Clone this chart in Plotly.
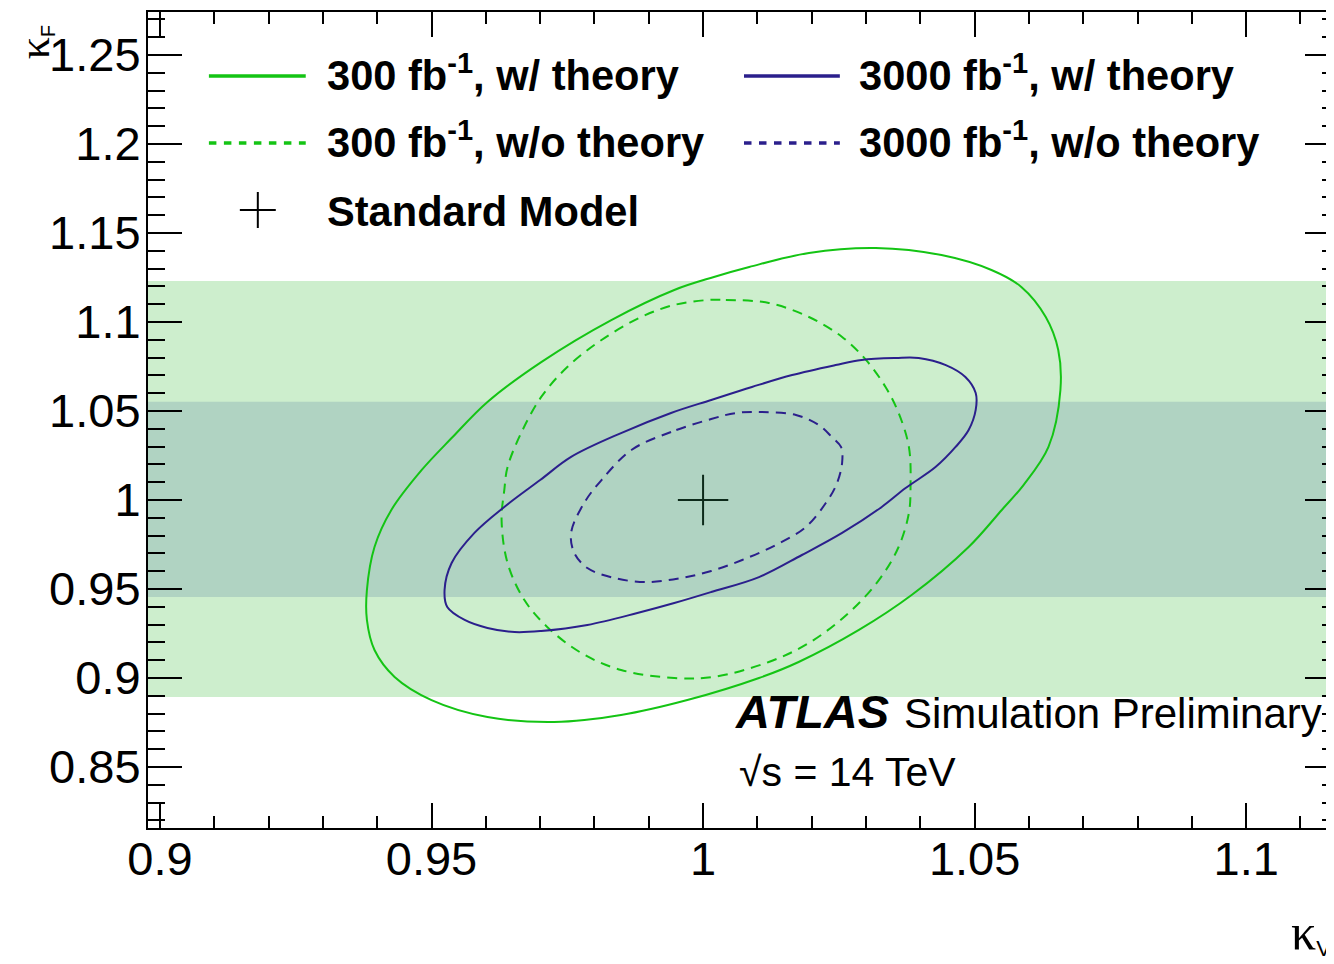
import plotly.graph_objects as go

# ---------------- data (kappa_V, kappa_F) ----------------
g300_th_kv = [1.0020, 0.9947, 0.9831, 0.9702, 0.9603, 0.9537, 0.9482, 0.9426, 0.9395, 0.9381,
              0.9381, 0.9395, 0.9432, 0.9500, 0.9603, 0.9726, 0.9849, 0.9971, 1.0103, 1.0176,
              1.0287, 1.0384, 1.0489, 1.0550, 1.0590, 1.0636, 1.0658, 1.0654, 1.0631, 1.0586,
              1.0531, 1.0439, 1.0318, 1.0195, 1.0085, 1.0020]
g300_th_kf = [1.1253, 1.1180, 1.1011, 1.0775, 1.0551, 1.0348, 1.0169, 0.9944, 0.9736, 0.9494,
              0.9326, 0.9157, 0.9006, 0.8876, 0.8781, 0.8753, 0.8792, 0.8876, 0.9000, 0.9090,
              0.9270, 0.9466, 0.9736, 0.9944, 1.0084, 1.0298, 1.0618, 1.0843, 1.1028, 1.1197,
              1.1292, 1.1376, 1.1416, 1.1388, 1.1309, 1.1253]

g300_nth_kv = [1.0011, 1.0042, 1.0121, 1.0195, 1.0256, 1.0300, 1.0336, 1.0360, 1.0379, 1.0382,
               1.0379, 1.0360, 1.0324, 1.0268, 1.0195, 1.0121, 1.0020, 0.9947, 0.9849, 0.9776,
               0.9713, 0.9671, 0.9640, 0.9629, 0.9634, 0.9640, 0.9665, 0.9702, 0.9750, 0.9813,
               0.9886, 0.9947, 1.0011]
g300_nth_kf = [1.1124, 1.1124, 1.1107, 1.1028, 1.0916, 1.0787, 1.0635, 1.0489, 1.0298, 1.0073,
               0.9927, 0.9736, 0.9551, 0.9365, 0.9197, 0.9090, 0.9006, 0.9000, 0.9045, 0.9140,
               0.9287, 0.9438, 0.9646, 0.9888, 1.0056, 1.0185, 1.0376, 1.0579, 1.0747, 1.0899,
               1.1028, 1.1096, 1.1124]

b3000_th_kv = [1.0015, 0.9941, 0.9849, 0.9757, 0.9700, 0.9634, 0.9579, 0.9537, 0.9524, 0.9529,
               0.9561, 0.9603, 0.9653, 0.9702, 0.9787, 0.9879, 0.9947, 1.0015, 1.0103, 1.0182,
               1.0256, 1.0329, 1.0373, 1.0428, 1.0465, 1.0489, 1.0502, 1.0502, 1.0483, 1.0447,
               1.0397, 1.0355, 1.0292, 1.0244, 1.0164, 1.0090, 1.0015]
b3000_th_kf = [1.0562, 1.0489, 1.0376, 1.0242, 1.0112, 0.9961, 0.9815, 0.9646, 0.9494, 0.9399,
               0.9326, 0.9281, 0.9258, 0.9264, 0.9298, 0.9365, 0.9421, 0.9483, 0.9567, 0.9691,
               0.9815, 0.9961, 1.0067, 1.0185, 1.0298, 1.0393, 1.0506, 1.0601, 1.0691, 1.0758,
               1.0798, 1.0798, 1.0787, 1.0758, 1.0702, 1.0635, 1.0562]

b3000_nth_kv = [1.0015, 0.9941, 0.9868, 0.9813, 0.9781, 0.9757, 0.9763, 0.9787, 0.9836, 0.9897,
                0.9960, 1.0015, 1.0072, 1.0134, 1.0189, 1.0226, 1.0246, 1.0256, 1.0254, 1.0237,
                1.0213, 1.0171, 1.0108, 1.0061, 1.0015]
b3000_nth_kf = [1.0455, 1.0382, 1.0281, 1.0112, 0.9983, 0.9815, 0.9702, 0.9618, 0.9562, 0.9539,
                0.9562, 0.9601, 0.9663, 0.9747, 0.9848, 0.9983, 1.0090, 1.0208, 1.0298, 1.0354,
                1.0421, 1.0478, 1.0494, 1.0489, 1.0455]

sm_kv = [1.0]
sm_kf = [1.0]

band_outer = [0.8893, 1.1230]
band_inner = [0.9455, 1.0552]

x_tickvals = [0.9, 0.95, 1.0, 1.05, 1.1]
x_ticktext = ["0.9", "0.95", "1", "1.05", "1.1"]
y_tickvals = [0.85, 0.9, 0.95, 1.0, 1.05, 1.1, 1.15, 1.2, 1.25]
y_ticktext = ["0.85", "0.9", "0.95", "1", "1.05", "1.1", "1.15", "1.2", "1.25"]

legend_labels = ["300 fb<sup>-1</sup>, w/ theory", "300 fb<sup>-1</sup>, w/o theory",
                 "3000 fb<sup>-1</sup>, w/ theory", "3000 fb<sup>-1</sup>, w/o theory",
                 "Standard Model"]

# ---------------- styles ----------------
GREEN = "#14c414"
BLUE = "#2b1f8c"
LIGHT_BAND = "#cdeecd"
DARK_BAND = "#b0d3c2"
DASH = "10px,7px"
FONT = "Liberation Sans"

OFF = 8                      # page offset of the figure inside the html body
W, H = 1334, 964
ML, MT = 140, 4              # plot area starts at page (148, 12)
PW = 1193                    # plot area right edge at page x = 1341
PH = 816                     # plot area bottom at page y = 828
MR = W - ML - PW
MB = H - MT - PH

def px(xpage):
    return (xpage - OFF - ML) / PW

def py(ypage):
    return (MT + PH - (ypage - OFF)) / PH

fig = go.Figure()

def contour(xs, ys, color, dash):
    fig.add_trace(go.Scatter(x=xs, y=ys, mode="lines",
                             line=dict(color=color, width=2, dash=dash, shape="spline", smoothing=1.0),
                             hoverinfo="skip", showlegend=False))

contour(g300_th_kv, g300_th_kf, GREEN, "solid")
contour(g300_nth_kv, g300_nth_kf, GREEN, DASH)
contour(b3000_th_kv, b3000_th_kf, BLUE, "solid")
contour(b3000_nth_kv, b3000_nth_kf, BLUE, DASH)

fig.add_trace(go.Scatter(x=sm_kv, y=sm_kf, mode="markers",
                         marker=dict(symbol="cross-thin", size=36,
                                     line=dict(color="#0d2a1a", width=2)),
                         hoverinfo="skip", showlegend=False))

shapes = []
shapes.append(dict(type="rect", xref="paper", yref="y", x0=0, x1=1,
                   y0=band_outer[0], y1=band_outer[1], fillcolor=LIGHT_BAND,
                   line=dict(width=0), layer="below"))
shapes.append(dict(type="rect", xref="paper", yref="y", x0=0, x1=1,
                   y0=band_inner[0], y1=band_inner[1], fillcolor=DARK_BAND,
                   line=dict(width=0), layer="below"))

# legend samples
leg_rows = [76, 143, 211]
col1_line = (209, 306)
col2_line = (745, 841)
for (x0, x1), color in [(col1_line, GREEN), (col2_line, BLUE)]:
    shapes.append(dict(type="line", xref="paper", yref="paper", x0=px(x0), x1=px(x1),
                       y0=py(leg_rows[0]), y1=py(leg_rows[0]),
                       line=dict(color=color, width=3.5)))
    shapes.append(dict(type="line", xref="paper", yref="paper", x0=px(x0), x1=px(x1),
                       y0=py(leg_rows[1]), y1=py(leg_rows[1]),
                       line=dict(color=color, width=3.5, dash="7.5px,7.5px")))
cx, cy, arm = 258, 210, 18
shapes.append(dict(type="line", xref="paper", yref="paper", x0=px(cx - arm), x1=px(cx + arm),
                   y0=py(cy), y1=py(cy), line=dict(color="black", width=2)))
shapes.append(dict(type="line", xref="paper", yref="paper", x0=px(cx), x1=px(cx),
                   y0=py(cy - arm), y1=py(cy + arm), line=dict(color="black", width=2)))

annotations = []
def text(x, y, s, size, xanchor="left", family=FONT, angle=0):
    annotations.append(dict(x=x, y=y, xref="paper", yref="paper", text=s, showarrow=False,
                            xanchor=xanchor, yanchor="middle", textangle=angle,
                            font=dict(family=family, size=size, color="black")))

LEG_FS = 41.6
text(px(325), py(leg_rows[0] - 3), "<b>" + legend_labels[0] + "</b>", LEG_FS)
text(px(325), py(leg_rows[1] - 3), "<b>" + legend_labels[1] + "</b>", LEG_FS)
text(px(858), py(leg_rows[0] - 3), "<b>" + legend_labels[2] + "</b>", LEG_FS)
text(px(858), py(leg_rows[1] - 3), "<b>" + legend_labels[3] + "</b>", LEG_FS)
text(px(325), py(leg_rows[2]), "<b>" + legend_labels[4] + "</b>", LEG_FS)

text(px(734), py(711), "<b><i>ATLAS</i></b>", 47)
text(px(903), py(713), "Simulation Preliminary", 42)
text(px(738), py(772), "√s = 14 TeV", 41)

# axis titles
annotations.append(dict(x=px(35), y=py(42), xref="paper", yref="paper", showarrow=False,
                        text="<span style='font-family:Liberation Serif;font-size:44px'>κ</span><sub>F</sub>",
                        textangle=-90, xanchor="center", yanchor="middle",
                        font=dict(family=FONT, size=28, color="black")))
annotations.append(dict(x=px(1291), y=py(932), xref="paper", yref="paper", showarrow=False,
                        text="<span style='font-family:Liberation Serif;font-size:50px'>κ</span><sub>V</sub>",
                        xanchor="left", yanchor="middle",
                        font=dict(family=FONT, size=32, color="black")))

x_range = [0.9 - 12 / 5440, 0.9 - 12 / 5440 + PW / 5440]
y_range = [1 - 328 / 1780, 1 - 328 / 1780 + PH / 1780]

fig.update_layout(
    width=W, height=H,
    margin=dict(l=ML, r=MR, t=MT, b=MB, pad=0),
    paper_bgcolor="white", plot_bgcolor="white",
    showlegend=False, hovermode=False,
    shapes=shapes, annotations=annotations,
    xaxis=dict(range=x_range, tickmode="array", tickvals=x_tickvals, ticktext=x_ticktext,
               ticks="inside", ticklen=25, tickwidth=2, tickcolor="black",
               showline=True, linewidth=2, linecolor="black", mirror="ticks",
               showgrid=False, zeroline=False,
               tickfont=dict(family=FONT, size=47, color="black"),
               ticklabelstandoff=-11,
               minor=dict(tick0=0.9, dtick=0.01, ticks="inside", ticklen=12, tickwidth=2,
                          tickcolor="black", showgrid=False)),
    yaxis=dict(range=y_range, tickmode="array", tickvals=y_tickvals, ticktext=y_ticktext,
               ticks="inside", ticklen=34, tickwidth=2, tickcolor="black",
               showline=True, linewidth=2, linecolor="black", mirror="ticks",
               showgrid=False, zeroline=False,
               tickfont=dict(family=FONT, size=47, color="black"),
               ticklabelstandoff=-4,
               minor=dict(tick0=0.8, dtick=0.01, ticks="inside", ticklen=17, tickwidth=2,
                          tickcolor="black", showgrid=False)),
)

fig.write_html("out.html")
